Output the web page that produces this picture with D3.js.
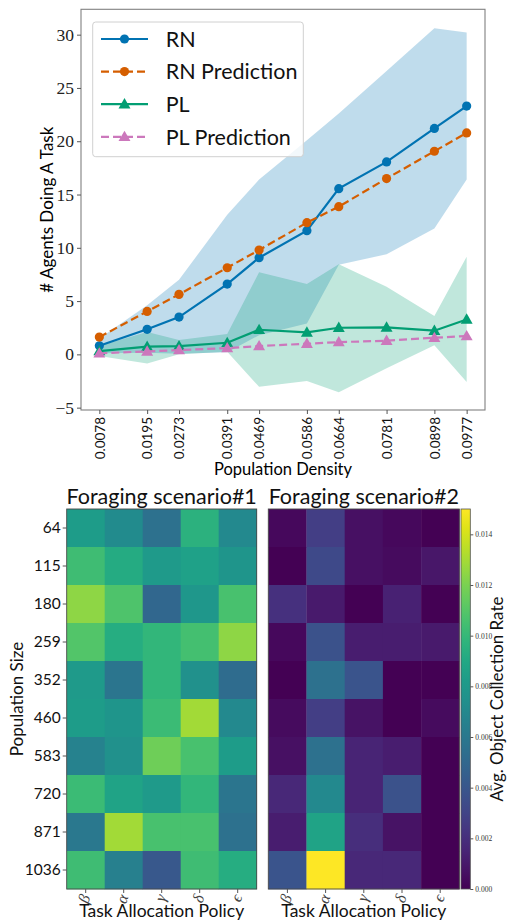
<!DOCTYPE html>
<html><head><meta charset="utf-8">
<script src="https://cdn.jsdelivr.net/npm/d3@7"></script>
<style>
body{margin:0;background:#fff;}
svg{display:block;}
</style></head>
<body>
<svg id="chart" width="508" height="921"></svg>
<script>
// ---------- data: top line chart ----------
const densityLabels = ["0.0078","0.0195","0.0273","0.0391","0.0469","0.0586","0.0664","0.0781","0.0898","0.0977"];
const density = [0.0078,0.0195,0.0273,0.0391,0.0469,0.0586,0.0664,0.0781,0.0898,0.0977];
const rnMean = [0.81,2.35,3.5,6.6,9.07,11.6,15.55,18.06,21.2,23.3];
const rnPred = [1.62,4.03,5.63,8.13,9.79,12.36,13.86,16.5,19.06,20.78];
const plMean = [0.31,0.72,0.78,1.09,2.31,2.06,2.5,2.53,2.22,3.28];
const plPred = [0.1,0.28,0.4,0.59,0.78,1.0,1.15,1.28,1.56,1.72];
const rnUpper = [1.5,4.6,7.0,13.1,16.4,20.1,22.6,26.6,30.6,30.2];
const rnLower = [0.1,0.15,0.05,0.2,1.8,2.9,8.4,9.4,11.8,16.4];
const plUpper = [0.78,2.1,1.34,1.9,7.7,6.6,8.45,6.35,3.6,9.17];
const plLower = [-0.16,-0.85,0.0,0.25,-3.05,-2.5,-3.55,-1.3,0.85,-2.6];
const yTicks = [-5,0,5,10,15,20,25,30];
const legendLabels = ["RN","RN Prediction","PL","PL Prediction"];

// ---------- data: heatmaps ----------
const policies = ["β","α","γ","δ","ϵ"];
const popSizes = [64,115,180,259,352,460,583,720,871,1036];
const scenario1 = [
  [0.00825,0.0072,0.00555,0.0096,0.00705],
  [0.01035,0.00915,0.0081,0.00855,0.0078],
  [0.01245,0.0108,0.00495,0.00795,0.01065],
  [0.01095,0.0093,0.0099,0.0105,0.01245],
  [0.0081,0.00585,0.0099,0.0075,0.00525],
  [0.00825,0.0078,0.0102,0.0129,0.00705],
  [0.0066,0.0075,0.0117,0.01065,0.00825],
  [0.0102,0.0087,0.0081,0.0099,0.00585],
  [0.006,0.0129,0.01065,0.01065,0.00555],
  [0.01035,0.00645,0.00405,0.01035,0.0093]
];
const scenario2 = [
  [0.0003,0.0027,0.0006,0.0003,0.0],
  [0.0,0.0033,0.0006,0.00045,0.0009],
  [0.0021,0.00105,0.0,0.00135,0.0],
  [0.0003,0.00375,0.0012,0.0012,0.00105],
  [0.0,0.00555,0.0039,0.0,0.0],
  [0.00045,0.0027,0.00075,0.0,0.00045],
  [0.0006,0.00555,0.0015,0.0012,0.0],
  [0.00165,0.00705,0.0015,0.00375,0.0],
  [0.0012,0.0087,0.00195,0.00075,0.0],
  [0.0039,0.0150,0.00165,0.00165,0.0]
];
const cbTicks = [0,0.002,0.004,0.006,0.008,0.010,0.012,0.014];
const colorMax = 0.015;

const svg = d3.select("#chart");
const serif = "'Liberation Serif','DejaVu Serif',serif";
const sans = "Lato,'Open Sans',sans-serif";

// ================= TOP CHART =================
const T = {l:81, r:485, t:9.3, b:410};
const x = d3.scaleLinear().domain([0.00331,0.10219]).range([T.l,T.r]);
const y = d3.scaleLinear().domain([-5.22,32.38]).range([T.b,T.t]);
const gTop = svg.append("g");

const colors = {rn:"#0173b2", rnp:"#d55e00", pl:"#029e73", plp:"#cc78bc"};

const area = (up, lo) => d3.area().x((d,i)=>x(density[i])).y0((d,i)=>y(lo[i])).y1((d,i)=>y(up[i]))(density);
gTop.append("path").attr("d", area(rnUpper, rnLower)).attr("fill", colors.rn).attr("fill-opacity",0.25);
gTop.append("path").attr("d", area(plUpper, plLower)).attr("fill", colors.pl).attr("fill-opacity",0.25);

const line = vals => d3.line().x((d,i)=>x(density[i])).y((d,i)=>y(vals[i]))(density);
const series = [
  {vals:rnMean, c:colors.rn, dash:null, m:"circle"},
  {vals:rnPred, c:colors.rnp, dash:"8,4", m:"circle"},
  {vals:plMean, c:colors.pl, dash:null, m:"triangle"},
  {vals:plPred, c:colors.plp, dash:"8,4", m:"triangle"}
];
const tri = d3.symbol().type(d3.symbolTriangle).size(62);
function marker(g, type, cx, cy, c){
  if(type==="circle") g.append("circle").attr("cx",cx).attr("cy",cy).attr("r",4.6).attr("fill",c);
  else g.append("path").attr("d",tri()).attr("transform",`translate(${cx},${cy+0.8})`).attr("fill",c);
}
series.forEach(s=>{
  gTop.append("path").attr("d", line(s.vals)).attr("fill","none").attr("stroke",s.c)
    .attr("stroke-width",2.2).attr("stroke-dasharray",s.dash);
  s.vals.forEach((v,i)=>marker(gTop, s.m, x(density[i]), y(v), s.c));
});

// frame
gTop.append("rect").attr("x",T.l).attr("y",T.t).attr("width",T.r-T.l).attr("height",T.b-T.t)
  .attr("fill","none").attr("stroke","#808080").attr("stroke-width",1.1);

// axes
const yAx = gTop.append("g").attr("transform",`translate(${T.l},0)`)
  .call(d3.axisLeft(y).tickValues(yTicks).tickSize(4).tickPadding(3).tickFormat(d=>d<0?"−"+Math.abs(d):d));
yAx.attr("font-family",serif);
yAx.select(".domain").remove();
yAx.selectAll("line").attr("stroke","#555");
yAx.selectAll("text").style("font-family",serif).attr("font-size",17.5).attr("fill","#222");

const xAx = gTop.append("g").attr("transform",`translate(0,${T.b})`)
  .call(d3.axisBottom(x).tickValues(density).tickSize(4).tickFormat((d,i)=>densityLabels[i]));
xAx.select(".domain").remove();
xAx.selectAll("line").attr("stroke","#555");
xAx.selectAll("text").style("font-family",sans).attr("font-size",13.5).attr("fill","#111")
  .attr("text-anchor","end").attr("dy","0.35em").attr("transform","translate(0,3) rotate(-90)").attr("x",-4).attr("y",0);

gTop.append("text").attr("x",(T.l+T.r)/2).attr("y",475).attr("text-anchor","middle")
  .style("font-family",sans).attr("font-size",16.5).text("Population Density");
gTop.append("text").attr("transform",`translate(53,${(T.t+T.b)/2}) rotate(-90)`).attr("text-anchor","middle")
  .style("font-family",sans).attr("font-size",17).text("# Agents Doing A Task");

// legend
const lg = gTop.append("g");
lg.append("rect").attr("x",92.7).attr("y",22).attr("width",210.6).attr("height",134.7).attr("rx",3)
  .attr("fill","#fff").attr("fill-opacity",0.8).attr("stroke","#d0d0d0");
series.forEach((s,i)=>{
  const ly = 39 + i*32.6;
  lg.append("line").attr("x1",101).attr("x2",148).attr("y1",ly).attr("y2",ly).attr("stroke",s.c)
    .attr("stroke-width",2.2).attr("stroke-dasharray",s.dash);
  marker(lg, s.m, 124.5, ly, s.c);
  lg.append("text").attr("x",165.7).attr("y",ly).attr("dy","0.36em").style("font-family",sans)
    .attr("font-size",21.5).attr("fill","#111").text(legendLabels[i]);
});

// ================= HEATMAPS =================
const color = d3.scaleSequential(d3.interpolateViridis).domain([0,colorMax]);
const H = {t:509, b:889};
const yRow = d3.scaleBand().domain(popSizes).range([H.t,H.b]);
function heatmap(data, x0, x1, title, showY){
  const g = svg.append("g");
  const xc = d3.scaleBand().domain(policies).range([x0,x1]);
  data.forEach((row,ri)=>row.forEach((v,ci)=>{
    g.append("rect").attr("x",xc(policies[ci])).attr("y",yRow(popSizes[ri]))
      .attr("width",xc.bandwidth()+0.3).attr("height",yRow.bandwidth()+0.3).attr("fill",color(v));
  }));
  g.append("rect").attr("x",x0).attr("y",H.t).attr("width",x1-x0).attr("height",H.b-H.t)
    .attr("fill","none").attr("stroke","#4a4a4a").attr("stroke-width",0.9);
  const xa = g.append("g").attr("transform",`translate(0,${H.b})`).call(d3.axisBottom(xc).tickSize(4));
  xa.select(".domain").remove();
  xa.selectAll("line").attr("stroke","#555");
  xa.selectAll("text").style("font-family",serif).attr("font-style","italic").attr("font-size",16).attr("fill","#444")
    .attr("text-anchor","end").attr("dy","0.32em").attr("y",0).attr("x",0)
    .attr("transform","translate(0,6) rotate(-72)");
  if(showY){
    const ya = g.append("g").attr("transform",`translate(${x0},0)`).call(d3.axisLeft(yRow).tickSize(4).tickPadding(2));
    ya.select(".domain").remove();
    ya.selectAll("line").attr("stroke","#555");
    ya.selectAll("text").style("font-family",sans).attr("font-size",15.5).attr("fill","#111");
  }
  g.append("text").attr("x",(x0+x1)/2).attr("y",504).attr("text-anchor","middle")
    .style("font-family",sans).attr("font-size",21.5).attr("fill","#111").text(title);
  g.append("text").attr("x",(x0+x1)/2).attr("y",917).attr("text-anchor","middle")
    .style("font-family",sans).attr("font-size",17.5).attr("fill","#111").text("Task Allocation Policy");
}
heatmap(scenario1, 66.7, 256.7, "Foraging scenario#1", true);
heatmap(scenario2, 268.3, 459.3, "Foraging scenario#2", false);

svg.append("text").attr("transform",`translate(23,${(H.t+H.b)/2}) rotate(-90)`).attr("text-anchor","middle")
  .style("font-family",sans).attr("font-size",17).attr("fill","#111").text("Population Size");

// colorbar
const cb = {x:461, w:9.3};
const cy = d3.scaleLinear().domain([0,colorMax]).range([H.b,H.t]);
const defs = svg.append("defs");
const grad = defs.append("linearGradient").attr("id","vir").attr("x1",0).attr("x2",0).attr("y1",1).attr("y2",0);
d3.range(0,1.0001,0.05).forEach(t=>grad.append("stop").attr("offset",t).attr("stop-color",d3.interpolateViridis(t)));
svg.append("rect").attr("x",cb.x).attr("y",H.t).attr("width",cb.w).attr("height",H.b-H.t).attr("fill","url(#vir)")
  .attr("stroke","#555").attr("stroke-width",0.8);
const cba = svg.append("g").attr("transform",`translate(${cb.x+cb.w},0)`)
  .call(d3.axisRight(cy).tickValues(cbTicks).tickSize(3).tickPadding(2).tickFormat(d3.format(".3f")));
cba.select(".domain").remove();
cba.selectAll("line").attr("stroke","#555");
cba.selectAll("text").style("font-family",serif).attr("font-size",7.5).attr("fill","#333");
svg.append("text").attr("transform",`translate(503,${(H.t+H.b)/2}) rotate(-90)`).attr("text-anchor","middle")
  .style("font-family",sans).attr("font-size",17).attr("fill","#111").text("Avg. Object Collection Rate");
</script>
</body></html>
